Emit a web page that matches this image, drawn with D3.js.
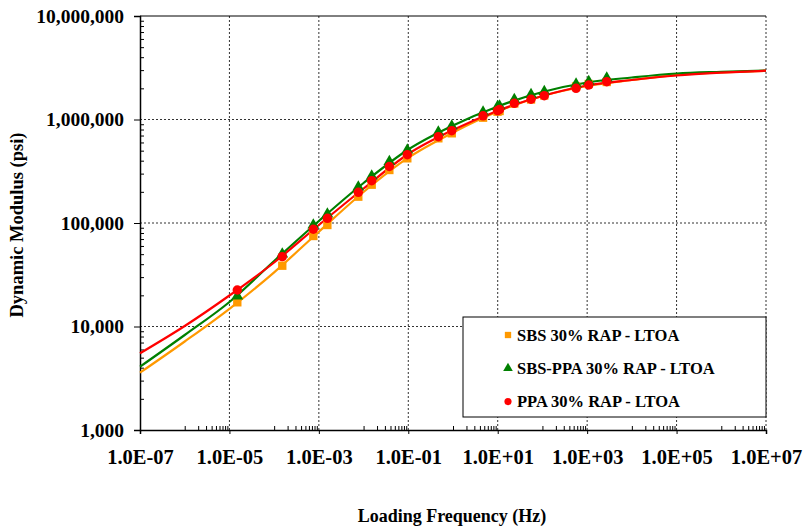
<!DOCTYPE html>
<html>
<head>
<meta charset="utf-8">
<script src="https://cdn.jsdelivr.net/npm/d3@7"></script>
<style>
body { margin: 0; background: #fff; }
text { font-family: "Liberation Serif", "Times New Roman", serif; font-weight: bold; fill: #000; }
</style>
</head>
<body>
<div id="chart"></div>
<script>
// series names and colours
const seriesNames = ["SBS 30% RAP - LTOA", "SBS-PPA 30% RAP - LTOA", "PPA 30% RAP - LTOA"]
const seriesColors = ["#FF9900", "#008000", "#FF0000"]

// measured points: reduced frequency (Hz) and dynamic modulus (psi)
const reducedFreq = [1.5e-5, 1.52e-4, 7.52e-4, 1.55e-3, 7.62e-3, 1.52e-2, 3.77e-2, 9.51e-2, 0.47, 0.938,
    4.70, 9.91, 11.0, 23.5, 55.6, 110, 565, 1086, 2742]
const sbsModulus = [17130, 38670, 74880, 95650, 179600, 234400, 325200, 421800, 658200, 735700,
    1041000, 1190000, 1208000, 1428000, 1561000, 1706000, 2084000, 2203000, 2303000]
const sbsPpaModulus = [19710, 50180, 95650, 122200, 222800, 284600, 392900, 507400, 757200, 865300,
    1182000, 1336000, 1350000, 1561000, 1744000, 1864000, 2203000, 2329000, 2518000]
const ppaModulus = [22530, 47300, 86950, 111000, 198000, 256300, 351500, 457000, 682000, 779500,
    1086000, 1216000, 1249000, 1434000, 1568000, 1698000, 2002000, 2154000, 2319000]

// master curves, one value per decade
const curveFreq = [1e-7, 1e-6, 1e-5, 1e-4, 1e-3, 1e-2, 1e-1, 1, 1e1, 1e2, 1e3, 1e4, 1e5, 1e6, 1e7]
const sbsCurve = [3578, 7163, 14830, 33390, 82390, 199300, 427400, 748700, 1195000, 1687000, 2107000, 2408000, 2703000, 2846000, 2961000]
const sbsPpaCurve = [4089, 8278, 17250, 42940, 104500, 243500, 513000, 874900, 1336000, 1844000, 2278000, 2546000, 2783000, 2890000, 2974000]
const ppaCurve = [5510, 10110, 19930, 41530, 95650, 215400, 464200, 791800, 1216000, 1687000, 2130000, 2408000, 2661000, 2833000, 2961000]

// axis tick values
const xMajorTicks = [1e-7, 1e-5, 1e-3, 1e-1, 1e1, 1e3, 1e5, 1e7]
const yMajorTicks = [1e3, 1e4, 1e5, 1e6, 1e7]

const width = 803, height = 527
const margin = { top: 16, right: 37, bottom: 97, left: 140 }
const plotW = width - margin.left - margin.right
const plotH = height - margin.top - margin.bottom

const svg = d3.select("#chart").append("svg")
    .attr("width", width)
    .attr("height", height)

const g = svg.append("g")
    .attr("transform", "translate(" + margin.left + "," + margin.top + ")")

const x = d3.scaleLog().domain([1e-7, 1e7]).range([0, plotW])
const y = d3.scaleLog().domain([1e3, 1e7]).range([plotH, 0])

// minor tick values
var xMinor = []
xMajorTicks.slice(0, -1).forEach(function(t) {
    for (let m = 1; m <= 9; m++) xMinor.push(t * 10 * m)
})
var yMinor = []
yMajorTicks.slice(0, -1).forEach(function(t) {
    for (let m = 2; m <= 9; m++) yMinor.push(t * m)
})

// dotted grid
const grid = g.append("g")
grid.selectAll(".vgrid")
    .data(xMajorTicks.slice(1))
    .enter().append("line")
    .attr("x1", function(d) { return x(d) }).attr("x2", function(d) { return x(d) })
    .attr("y1", 0).attr("y2", plotH)
    .attr("stroke", "#333").attr("stroke-width", 1).attr("stroke-dasharray", "2,2")
grid.selectAll(".hgrid")
    .data(yMajorTicks.slice(1, -1))
    .enter().append("line")
    .attr("x1", 0).attr("x2", plotW)
    .attr("y1", function(d) { return y(d) }).attr("y2", function(d) { return y(d) })
    .attr("stroke", "#333").attr("stroke-width", 1).attr("stroke-dasharray", "2,2")
// top edge
g.append("line")
    .attr("x1", 0).attr("x2", plotW).attr("y1", 0).attr("y2", 0)
    .attr("stroke", "#000").attr("stroke-width", 1)

// x axis
function fmtSci(d) {
    const e = Math.round(Math.log10(d))
    return "1.0E" + (e < 0 ? "-" : "+") + String(Math.abs(e)).padStart(2, "0")
}
const xAxis = g.append("g")
    .attr("transform", "translate(0," + plotH + ")")
    .call(d3.axisBottom(x).tickValues(xMajorTicks).tickFormat(fmtSci).tickSize(4).tickPadding(15))
xAxis.select(".domain").attr("stroke-width", 1.5)
xAxis.selectAll("text").style("font-size", "20.5px").attr("font-family", null)
g.append("g")
    .attr("transform", "translate(0," + plotH + ")")
    .call(d3.axisTop(x).tickValues(xMinor).tickFormat("").tickSize(4))
    .select(".domain").remove()

// y axis
const yAxis = g.append("g")
    .call(d3.axisLeft(y).tickValues(yMajorTicks).tickFormat(d3.format(",")).tickSize(6).tickPadding(10))
yAxis.select(".domain").attr("stroke-width", 1.5)
yAxis.selectAll("text").style("font-size", "19.5px").attr("font-family", null)
g.append("g")
    .call(d3.axisRight(y).tickValues(yMinor).tickFormat("").tickSize(4))
    .select(".domain").remove()

// axis titles
svg.append("text")
    .attr("x", margin.left + plotW / 2 - 1)
    .attr("y", 522)
    .attr("text-anchor", "middle")
    .style("font-size", "18px")
    .text("Loading Frequency (Hz)")
svg.append("text")
    .attr("transform", "translate(23," + (margin.top + plotH / 2 + 2) + ") rotate(-90)")
    .attr("text-anchor", "middle")
    .style("font-size", "18.5px")
    .text("Dynamic Modulus (psi)")

// curves
const curveSets = [sbsCurve, sbsPpaCurve, ppaCurve]
const line = d3.line()
    .x(function(d) { return x(d[0]) })
    .y(function(d) { return y(d[1]) })
    .curve(d3.curveMonotoneX)
curveSets.forEach(function(vals, i) {
    g.append("path")
        .datum(curveFreq.map(function(f, j) { return [f, vals[j]] }))
        .attr("d", line)
        .attr("fill", "none")
        .attr("stroke", seriesColors[i])
        .attr("stroke-width", 2.2)
})

// markers
const pointSets = [sbsModulus, sbsPpaModulus, ppaModulus]
const symbols = [d3.symbolSquare, d3.symbolTriangle, d3.symbolCircle]
const symSizes = [70, 60, 70]
pointSets.forEach(function(vals, i) {
    g.append("g").selectAll("path")
        .data(reducedFreq.map(function(f, j) { return [f, vals[j]] }))
        .enter().append("path")
        .attr("transform", function(d) { return "translate(" + x(d[0]) + "," + y(d[1]) + ")" })
        .attr("d", d3.symbol().type(symbols[i]).size(symSizes[i]))
        .attr("fill", seriesColors[i])
})

// legend
const legend = svg.append("g").attr("transform", "translate(463,317)")
legend.append("rect")
    .attr("width", 303).attr("height", 100)
    .attr("fill", "#fff").attr("stroke", "#000").attr("stroke-width", 1)
seriesNames.forEach(function(name, i) {
    const row = legend.append("g").attr("transform", "translate(0," + (18 + i * 33.3) + ")")
    row.append("path")
        .attr("transform", "translate(45,0)")
        .attr("d", d3.symbol().type(symbols[i]).size(40))
        .attr("fill", seriesColors[i])
    row.append("text")
        .attr("x", 54).attr("dy", "0.35em")
        .style("font-size", "16.5px")
        .text(name)
})
</script>
</body>
</html>
